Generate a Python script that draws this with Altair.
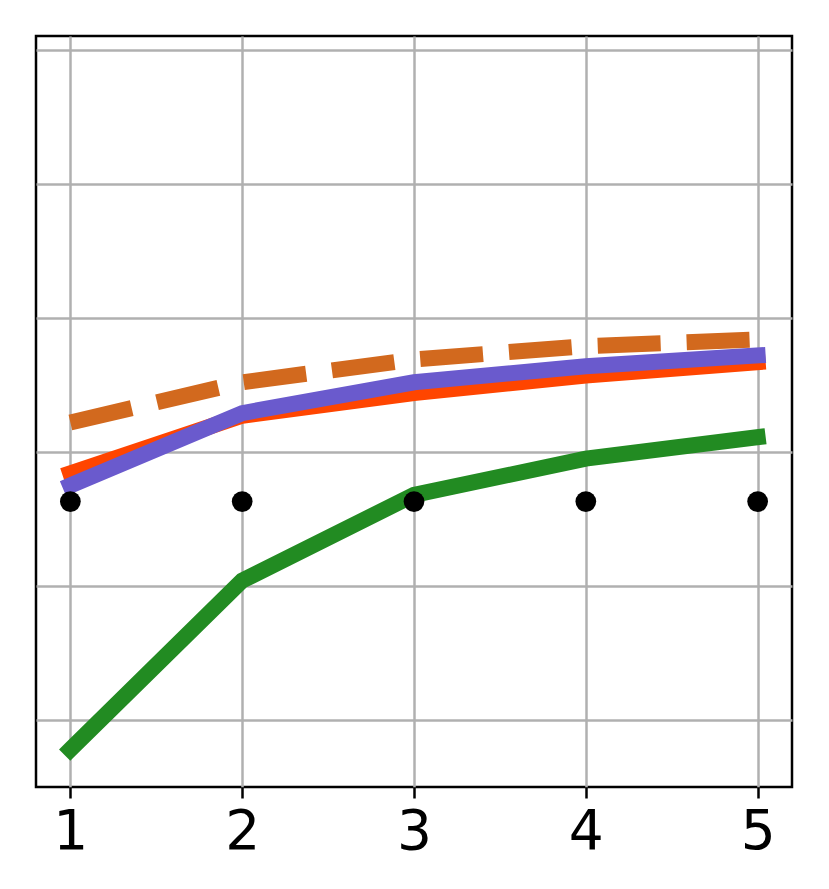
import altair as alt
import pandas as pd

x_vals = [1, 2, 3, 4, 5]
green_vals = [-0.22, 1.04, 1.68, 1.95, 2.11]
red_vals = [1.84, 2.27, 2.44, 2.57, 2.67]
purple_vals = [1.75, 2.29, 2.52, 2.64, 2.72]
dashed_vals = [2.22, 2.52, 2.69, 2.79, 2.84]
dot_vals = [1.63, 1.63, 1.63, 1.63, 1.63]
y_grid = [0, 1, 2, 3, 4, 5]

df = pd.DataFrame({
    "x": x_vals,
    "green": green_vals,
    "red": red_vals,
    "purple": purple_vals,
    "dashed": dashed_vals,
    "dots": dot_vals,
})

xs = alt.Scale(domain=[0.8, 5.2], nice=False, zero=False)
ys = alt.Scale(domain=[-0.5, 5.104], nice=False, zero=False)
xax = alt.X("x:Q", scale=xs, axis=alt.Axis(values=x_vals, title=None, format="d"))
yax_kw = dict(scale=ys, axis=alt.Axis(values=y_grid, title=None, labels=False, ticks=False))

base = alt.Chart(df)

def line(field, color, dash=None):
    kw = dict(color=color, strokeWidth=16, strokeJoin="miter")
    if dash:
        kw["strokeDash"] = dash
        kw["strokeCap"] = "butt"
    else:
        kw["strokeCap"] = "square"
    return base.mark_line(**kw).encode(x=xax, y=alt.Y(f"{field}:Q", **yax_kw))

green = line("green", "#228B22")
red = line("red", "#FF4500")
purple = line("purple", "#6A5ACD")
dashed = line("dashed", "#D2691E", [63, 26])
dots = base.mark_circle(color="black", size=430, opacity=1).encode(
    x=xax, y=alt.Y("dots:Q", **yax_kw)
)

chart = alt.layer(green, red, purple, dashed, dots).properties(
    width=756, height=751,
    autosize=alt.AutoSizeParams(type="none"),
    padding={"left": 28, "top": 28, "right": 20, "bottom": 90},
).configure_view(
    stroke="black", strokeWidth=2.5
).configure_axis(
    domain=False,
    grid=True,
    gridColor="#b0b0b0",
    gridWidth=2.5,
    tickColor="black",
    tickWidth=2.5,
    tickSize=11,
    labelFont="DejaVu Sans",
    labelFontSize=55,
    labelColor="black",
    labelPadding=7,
)

chart.save("out.html", embed_options={"renderer": "svg", "actions": False})
